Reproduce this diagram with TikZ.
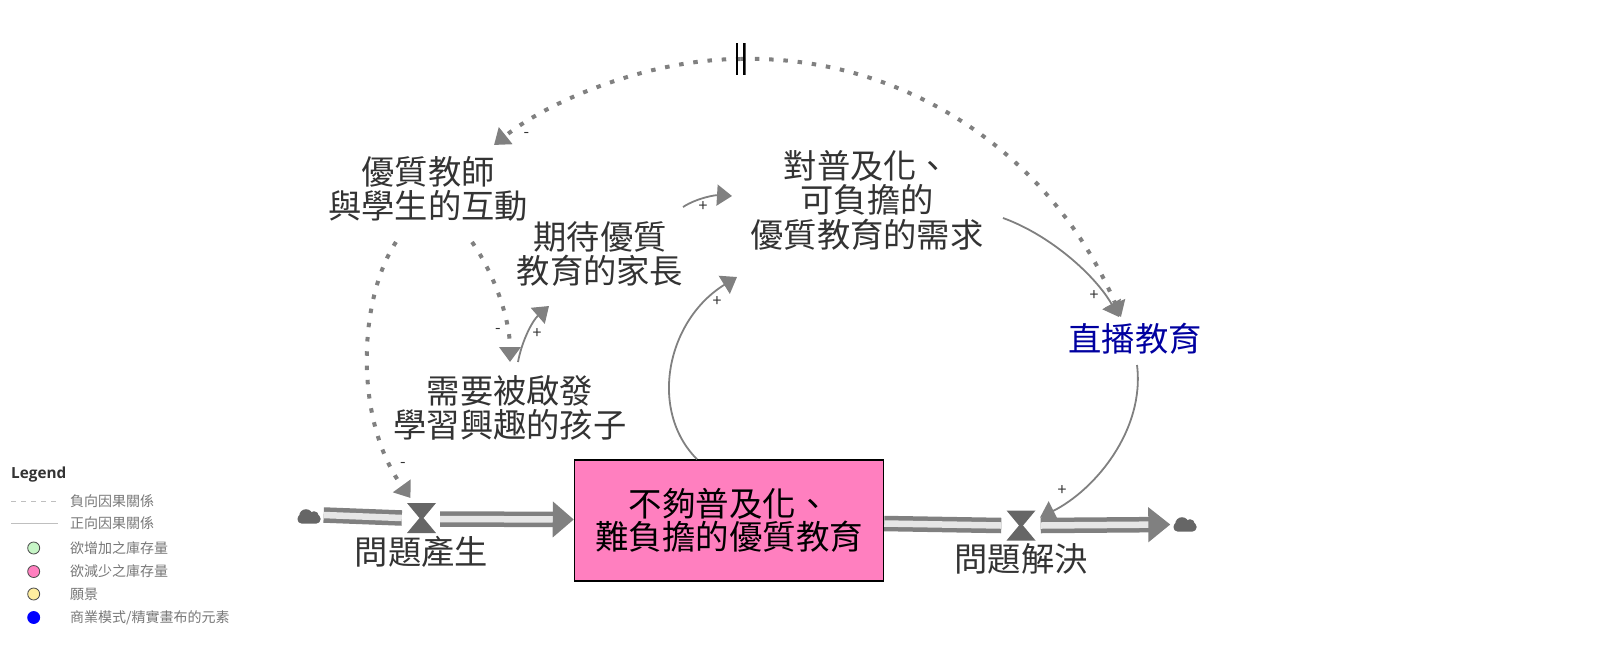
\documentclass[tikz,border=0pt]{standalone}
\usepackage{fontspec}
\setmainfont{Noto Sans CJK TC}
\newfontfamily\legendfont{Open Sans}
\usetikzlibrary{arrows.meta,positioning}
\definecolor{flowgray}{HTML}{808080}
\definecolor{valvegray}{HTML}{666666}
\definecolor{bandlight}{HTML}{E6E6E6}
\definecolor{labelgray}{HTML}{333333}
\definecolor{legendgray}{HTML}{777777}
\definecolor{stockpink}{HTML}{FF7FBF}
\begin{document}
\begin{tikzpicture}[x=1pt,y=-1pt,node distance=0pt,
lab/.style={inner sep=0pt,align=center,text=labelgray,font=\fontsize{33.3}{34.5}\selectfont},
stock/.style={draw=black,line width=1.5pt,fill=stockpink,minimum width=309pt,minimum height=121pt,inner sep=0pt,align=center,font=\fontsize{33.5}{33}\selectfont},
sign/.style={inner sep=0pt,text=labelgray,font=\fontsize{16}{16}\selectfont},
poslink/.style={draw=flowgray,line width=1.8pt,-{Triangle[length=15pt,width=21pt,fill=flowgray]}},
neglink/.style={draw=flowgray,line width=4pt,dash pattern=on 4.5pt off 9.8pt,-{Triangle[length=15pt,width=21pt,fill=flowgray]}},
band/.style={draw=flowgray,line width=4.5pt,double=bandlight,double distance=6.5pt},
valve/.style={minimum width=29pt,minimum height=30pt,inner sep=0pt,path picture={
\fill[valvegray] (path picture bounding box.north west)--(path picture bounding box.north east)--([xshift=2pt]path picture bounding box.center)--(path picture bounding box.south east)--(path picture bounding box.south west)--([xshift=-2pt]path picture bounding box.center)--cycle;}},
sink/.style={minimum width=23pt,minimum height=17pt,inner sep=0pt,path picture={
\fill[valvegray,rounded corners=4pt] ([yshift=9pt]path picture bounding box.south west) rectangle (path picture bounding box.south east);
\fill[valvegray] ([xshift=-3pt,yshift=-1pt]path picture bounding box.center) circle (6.8pt);
\fill[valvegray] ([xshift=5pt,yshift=-1pt]path picture bounding box.center) circle (4.8pt);}},
delaymark/.style={minimum width=10pt,minimum height=32pt,inner sep=0pt,path picture={
\draw[black,line width=2.8pt] ([xshift=1.4pt]path picture bounding box.north west)--([xshift=1.4pt]path picture bounding box.south west);
\draw[black,line width=2.8pt] ([xshift=-1.4pt]path picture bounding box.north east)--([xshift=-1.4pt]path picture bounding box.south east);}},
lgd/.style={inner sep=0pt,anchor=west,text=legendgray,font=\fontsize{14}{14}\selectfont},
dot/.style={circle,draw=black!70,line width=0.8pt,minimum size=12pt,inner sep=0pt}]
\useasboundingbox (0,0) rectangle (1600,646);
% stock and flows
\node[stock] (problem) at (729,520.5) {\raisebox{3pt}{不夠普及化、}\\\raisebox{3pt}{難負擔的優質教育}};
\node[valve] (vIn) at (421.5,518) {};
\node[valve] (vOut) at (1021,525.5) {};
\node[sink] (cloudL) at (309,515) {};
\node[sink] (cloudR) at (1185,523) {};
\node[lab,below=3pt of vIn] (birth) {問題產生};
\node[lab,below=3pt of vOut] (solve) {問題解決};
\draw[band] ([xshift=3pt]cloudL.east) -- ([xshift=-5pt]vIn.west);
\draw[band,-{Triangle[length=21pt,width=35pt,fill=flowgray]}] ([xshift=4pt,yshift=-1pt]vIn.east) -- ([yshift=1pt]problem.west);
\draw[band] ([yshift=-3pt]problem.east) -- ([xshift=-5pt]vOut.west);
\draw[band,-{Triangle[length=22pt,width=34pt,fill=flowgray]}] ([xshift=5pt]vOut.east) -- ([xshift=-3pt,yshift=-1.5pt]cloudR.west);
% labels
\node[lab] (teacher) at (428,189) {優質教師\\與學生的互動};
\node[lab] (parent) at (600,254) {期待優質\\教育的家長};
\node[lab] (demand) at (867,200) {對普及化、\\可負擔的\\優質教育的需求};
\node[lab,text={rgb,255:red,0;green,0;blue,160}] (live) at (1135,339) {直播教育};
\node[lab] (child) at (510,408) {需要被啟發\\學習興趣的孩子};
\coordinate (delayPt) at (740.5,59);
% causal links
\draw[neglink] (delayPt) .. controls (650,59) and (550,100) .. ([shift={(66,-44)}]teacher.center);
\draw[neglink] (delayPt) .. controls (900,55) and (1050,150) .. ([shift={(-14,-22)}]live.center);
\draw[neglink] ([shift={(-32,53)}]teacher.center) .. controls (358,300) and (354,420) .. ([shift={(-11,-20)}]vIn.center);
\draw[neglink] ([shift={(44,53)}]teacher.center) .. controls (495,275) and (510,320) .. ([shift={(0,-46)}]child.center);
\draw[poslink] ([shift={(8,-46)}]child.center) .. controls (522,340) and (533,320) .. ([shift={(-51,52)}]parent.center);
\draw[poslink] ([shift={(83,-47)}]parent.center) .. controls (697,198) and (715,195) .. ([shift={(-135,-4)}]demand.center);
\draw[poslink] ([shift={(-32,0)}]problem.north) .. controls (648,410) and (667,320) .. ([shift={(-130,77)}]demand.center);
\draw[poslink] ([shift={(136,18)}]demand.center) .. controls (1050,235) and (1095,275) .. ([shift={(-16,-22)}]live.center);
\draw[poslink] ([shift={(2,26)}]live.center) .. controls (1145,430) and (1095,490) .. ([shift={(19,-8)}]vOut.center);
\node[delaymark] (delay) at (delayPt) {};
% signs
\node[sign] (s1) at (526.5,135) {-};
\node[sign] (s2) at (498,331) {-};
\node[sign] (s3) at (403,465) {-};
\node[sign] (s4) at (703,207) {+};
\node[sign] (s5) at (537,334) {+};
\node[sign] (s6) at (717,302) {+};
\node[sign] (s7) at (1094,296) {+};
\node[sign] (s8) at (1062,491) {+};
% legend
\node[inner sep=0pt,anchor=west,text=labelgray,font=\legendfont\bfseries\fontsize{15.3}{15}\selectfont] (lgTitle) at (11,474.5) {Legend};
\node[lgd] (lgNeg) at (70,501) {負向因果關係};
\node[lgd] (lgPos) at (70,523.5) {正向因果關係};
\node[lgd] (lgUp) at (70,548) {欲增加之庫存量};
\node[lgd] (lgDown) at (70,571.5) {欲減少之庫存量};
\node[lgd] (lgVision) at (70,594) {願景};
\node[lgd] (lgCanvas) at (70,617.5) {商業模式/精實畫布的元素};
\draw[black!25,dash pattern=on 5pt off 5pt] (11,501) -- (58,501);
\draw[black!25] (11,523.5) -- (58,523.5);
\node[dot,fill={rgb,255:red,198;green,245;blue,198}] (dUp) at (33.7,548) {};
\node[dot,fill=stockpink] (dDown) at (33.7,571.5) {};
\node[dot,fill={rgb,255:red,255;green,238;blue,160}] (dVision) at (33.7,594) {};
\node[dot,fill=blue,draw=blue] (dCanvas) at (33.7,617.5) {};
\end{tikzpicture}
\end{document}
